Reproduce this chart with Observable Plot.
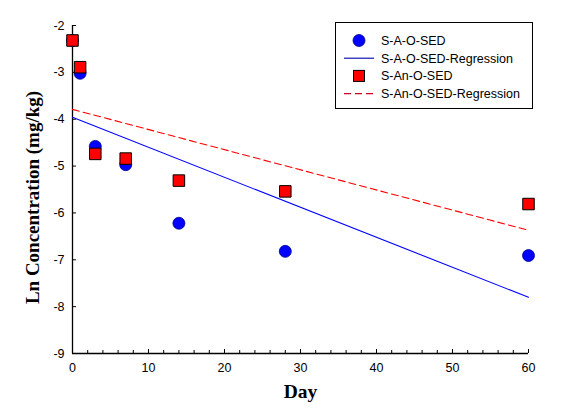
<!DOCTYPE html>
<html><head><meta charset="utf-8">
<script src="https://cdn.jsdelivr.net/npm/d3@7"></script>
<script src="https://cdn.jsdelivr.net/npm/@observablehq/plot@0.6"></script>
<style>
body{margin:0;background:#fff}
#c{position:relative;width:572px;height:408px}
#legend{position:absolute;left:335px;top:22px}
</style>
</head><body><div id="c"></div>
<script>
// ---- data ----
const days = [0, 1, 3, 7, 14, 28, 60];
const aerobic = [-2.32, -3.02, -4.58, -4.97, -6.22, -6.82, -6.91];   // S-A-O-SED
const anaerobic = [-2.32, -2.89, -4.74, -4.84, -5.31, -5.54, -5.81]; // S-An-O-SED
const seriesNames = ["S-A-O-SED", "S-A-O-SED-Regression", "S-An-O-SED", "S-An-O-SED-Regression"];
const regIntercepts = [-3.96, -3.79];
const regSlopes = [-0.064, -0.043];
const regDays = [0, 60];
const xTicks = [0, 10, 20, 30, 40, 50, 60];
const xMinorTicks = [2, 4, 6, 8, 12, 14, 16, 18, 22, 24, 26, 28, 32, 34, 36, 38, 42, 44, 46, 48, 52, 54, 56, 58];
const yTicks = [-2, -3, -4, -5, -6, -7, -8, -9];
const xLabel = "Day";
const yLabel = "Ln Concentration (mg/kg)";

const blue = "#0000ff", red = "#ff0000";
const ptsA = days.map((d, i) => ({day: d, v: aerobic[i]}));
const ptsB = days.map((d, i) => ({day: d, v: anaerobic[i]}));
const lineA = regDays.map(d => ({day: d, v: regIntercepts[0] + regSlopes[0] * d}));
const lineB = regDays.map(d => ({day: d, v: regIntercepts[1] + regSlopes[1] * d}));

const chart = Plot.plot({
  width: 572, height: 408,
  marginLeft: 72, marginRight: 44, marginTop: 25, marginBottom: 55,
  style: {fontFamily: "'Liberation Sans', Arial, sans-serif", fontSize: "12px", color: "#000", background: "#fff"},
  x: {domain: [0, 60]},
  y: {domain: [-9, -2]},
  marks: [
    // axis lines
    Plot.ruleX([0], {y1: -9, y2: -2, stroke: "#000", strokeWidth: 1.3}),
    Plot.ruleY([-9], {x1: 0, x2: 60, stroke: "#000", strokeWidth: 1.3}),
    // inward ticks
    Plot.axisX(xTicks, {tickSize: 4, dy: -4, tickFormat: () => "", label: null}),
    Plot.axisX(xMinorTicks, {tickSize: 3, dy: -3, tickFormat: () => "", label: null}),
    Plot.axisY(yTicks, {tickSize: 4, dx: 4, tickFormat: () => "", label: null}),
    // tick labels
    Plot.axisX(xTicks, {tickSize: 0, tickPadding: 10, fontSize: 12.5, label: null}),
    Plot.axisY(yTicks, {tickSize: 0, tickPadding: 8, fontSize: 12.5, label: null, tickFormat: d => String(d)}),
    // axis titles
    Plot.text([xLabel], {frameAnchor: "bottom", dy: 44, fontFamily: "'Liberation Serif', 'Times New Roman', serif", fontWeight: "bold", fontSize: 19.5}),
    Plot.text([yLabel], {frameAnchor: "left", textAnchor: "middle", rotate: -90, dx: -40, dy: 8, fontFamily: "'Liberation Serif', 'Times New Roman', serif", fontWeight: "bold", fontSize: 19}),
    // regression lines
    Plot.line(lineA, {x: "day", y: "v", stroke: blue, strokeWidth: 1.1}),
    Plot.line(lineB, {x: "day", y: "v", stroke: red, strokeWidth: 1.1, strokeDasharray: "7,4"}),
    // points
    Plot.dot(ptsA, {x: "day", y: "v", r: 6, fill: blue, stroke: "#00008b", strokeWidth: 0.8, symbol: "circle"}),
    Plot.dot(ptsB, {x: "day", y: "v", r: 6.5, fill: red, stroke: "#000", strokeWidth: 1, symbol: "square"})
  ]
});
document.getElementById("c").appendChild(chart);

// ---- legend overlay ----
const lw = 198, lh = 87;
const leg = d3.select("#c").append("svg").attr("id", "legend").attr("width", lw).attr("height", lh);
leg.append("rect").attr("x", 0.5).attr("y", 0.5).attr("width", lw - 1).attr("height", lh - 1)
  .attr("fill", "#fff").attr("stroke", "#000").attr("stroke-width", 1);
const rowY = i => 18.5 + i * 17.7;
leg.append("circle").attr("cx", 24).attr("cy", rowY(0)).attr("r", 6).attr("fill", blue).attr("stroke", "#00008b").attr("stroke-width", 0.8);
leg.append("line").attr("x1", 9).attr("x2", 39).attr("y1", rowY(1)).attr("y2", rowY(1)).attr("stroke", "#0000aa").attr("stroke-width", 1.1);
leg.append("rect").attr("x", 24 - 5.5).attr("y", rowY(2) - 5.5).attr("width", 11).attr("height", 11).attr("fill", red).attr("stroke", "#000").attr("stroke-width", 1);
leg.append("line").attr("x1", 9).attr("x2", 39).attr("y1", rowY(3)).attr("y2", rowY(3)).attr("stroke", "#cc0022").attr("stroke-width", 1.1).attr("stroke-dasharray", "7,4");
seriesNames.forEach((name, i) => {
  leg.append("text").attr("x", 46).attr("y", rowY(i)).attr("dy", "0.35em")
    .attr("font-family", "'Liberation Sans', Arial, sans-serif").attr("font-size", 12.5).attr("fill", "#000").text(name);
});
</script>
</body></html>
